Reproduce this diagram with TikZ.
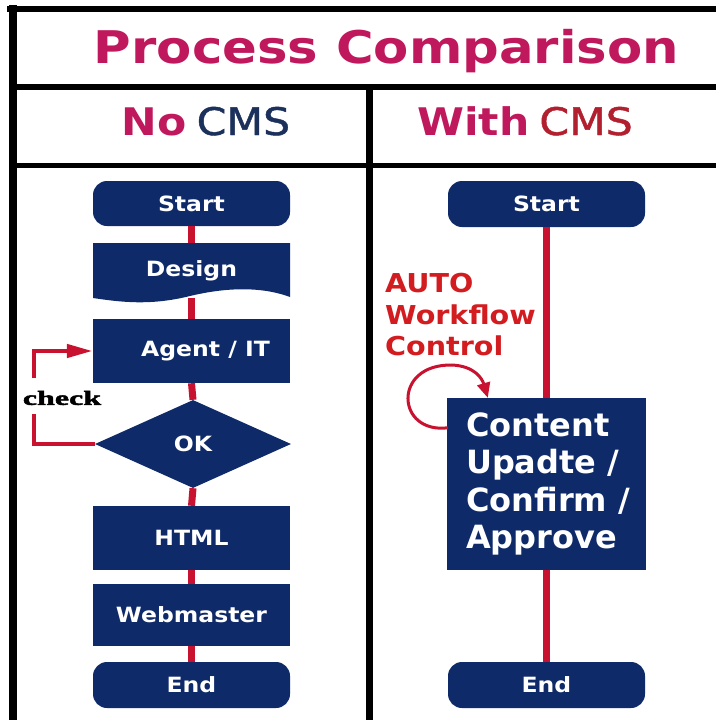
\documentclass[tikz,border=0pt]{standalone}
\usepackage{fontspec}
\usetikzlibrary{shapes.geometric,arrows.meta,calc}

% Faces
\newfontfamily\titleface{DejaVu Sans}[FakeStretch=1.14]
\newfontfamily\wideface{DejaVu Sans}[FakeStretch=1.12]
\newfontfamily\autoface{DejaVu Sans}[FakeStretch=1.10]
\newfontfamily\plainface{DejaVu Sans}
\newfontfamily\cmsface{DejaVu Sans}[FakeStretch=1.12,FakeBold=1.2]
\newfontfamily\checkface{Liberation Serif}[FakeStretch=1.6,FakeBold=2.5]

\newcommand\boxfont{\wideface\bfseries\fontsize{21}{25}\selectfont}

% Palette
\definecolor{navybox}{RGB}{14,42,104}
\definecolor{crimson}{RGB}{192,24,92}
\definecolor{cmsblue}{RGB}{28,48,92}
\definecolor{cmsred}{RGB}{178,32,48}
\definecolor{linkred}{RGB}{200,18,48}
\definecolor{autored}{RGB}{210,28,32}

\tikzset{
  term/.style={fill=navybox, rounded corners=14pt, minimum width=197pt,
    minimum height=45pt, text=white, font=\boxfont, inner sep=0pt},
  proc/.style={fill=navybox, minimum width=197pt, text=white,
    font=\boxfont, inner sep=0pt},
  link/.style={draw=linkred, line width=7pt},
  loopline/.style={draw=linkred, line width=4.5pt, line join=miter},
  rule/.style={draw=black, line cap=rect}
}

\begin{document}
\begin{tikzpicture}[x=1pt, y=-1pt]
\useasboundingbox (0,0) rectangle (715,720);
\fill[white] (0,0) rectangle (715,720);

% table frame
\draw[rule, line width=6pt] (10,9) -- (715,9);
\draw[rule, line width=8pt] (13,9) -- (13,720);
\draw[rule, line width=6pt] (13,87) -- (715,87);
\draw[rule, line width=5pt] (13,165) -- (715,165);
\draw[black, line width=7pt] (369,87) -- (369,720);

% headings
\node[anchor=base, text=crimson, font=\titleface\bfseries\fontsize{45}{50}\selectfont]
  (title) at (386.5,63) {Process Comparison};
\node[anchor=base, font=\wideface\bfseries\fontsize{38}{40}\selectfont]
  (hleft) at (206,135) {{\color{crimson}No}\hspace{10pt}{\color{cmsblue}\cmsface\mdseries CMS}};
\node[anchor=base, font=\wideface\bfseries\fontsize{38}{40}\selectfont]
  (hright) at (525,135) {{\color{crimson}With}\hspace{10pt}{\color{cmsred}\cmsface\mdseries CMS}};

% ---- left flow: no CMS ----
\node[term] (startL) at (191.5,203.5) {Start};

\fill[navybox] (93,243) -- (290,243) -- (290,297)
  .. controls (255,284) and (215,290) .. (190,296)
  .. controls (150,306) and (120,302) .. (93,298) -- cycle;
\node[minimum width=197pt, minimum height=55pt, inner sep=0pt, text=white, font=\boxfont]
  (design) at (191.5,270.5) {Design};

\node[proc, minimum height=64pt] (agent) at (191.5,351) {\hspace*{28pt}Agent / IT};
\node[diamond, fill=navybox, minimum width=196pt, minimum height=88pt, inner sep=0pt,
  text=white, font=\boxfont] (ok) at (193,444) {OK};
\node[proc, minimum height=64pt] (html) at (191.5,538) {HTML};
\node[proc, minimum height=62pt] (web) at (191.5,615) {Webmaster};
\node[term, minimum height=46pt] (endL) at (191.5,685) {End};

\draw[link] (startL.south) -- (design.north);
\draw[link] (design.south) -- (agent.north);
\draw[link] (agent.south) -- (ok.north);
\draw[link] (ok.south) -- (html.north);
\draw[link] (html.south) -- (web.north);
\draw[link] (web.south) -- (endL.north);

% check loop back to Agent / IT
\coordinate (ckTop) at (34,378);
\coordinate (ckBot) at (34,414);
\draw[loopline, -{Triangle[length=26pt,width=13pt]}] (ckTop) |- (agent.west);
\draw[loopline] (ok.west) -| (ckBot);
\node[font=\checkface\bfseries\fontsize{20}{20}\selectfont, inner sep=0pt]
  (ck) at (62,398) {check};

% ---- right flow: with CMS ----
\node[term, minimum height=46pt] (startR) at (546.5,204) {Start};
\node[fill=navybox, minimum width=199pt, minimum height=172pt, inner sep=0pt,
  text=white, align=left, font=\plainface\bfseries\fontsize{32}{37.5}\selectfont]
  (content) at (546.5,484) {\hspace*{3pt}Content\\\hspace*{3pt}Upadte /\\\hspace*{3pt}Confirm /\\\hspace*{3pt}Approve};
\node[term, minimum height=46pt] (endR) at (546.5,685) {End};

\draw[link] (startR.south) -- (startR.south |- content.north);
\draw[link] (endR.north |- content.south) -- (endR.north);

\node[anchor=north west, inner sep=0pt, align=left, text=autored,
  font=\autoface\bfseries\fontsize{26}{31.5}\selectfont]
  (auto) at (385,273) {AUTO\\Workflow\\Control};

\draw[loopline, line width=3pt, -{Triangle[length=15pt,width=13pt]}]
  ($(content.north west)+(1,30)$)
  .. controls (396,434) and (392,364) .. (452,365)
  .. controls (474,366) and (482,378) .. ($(content.north west)+(41,0)$);
\end{tikzpicture}
\end{document}
